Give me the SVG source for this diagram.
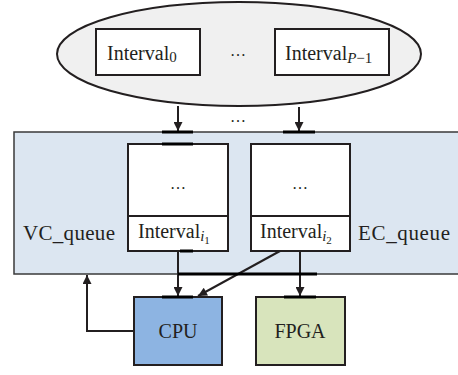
<svg xmlns="http://www.w3.org/2000/svg" width="458" height="375" viewBox="0 0 458 375">
<style>
text{font-family:"Liberation Serif","Times New Roman",serif;fill:#231f20;font-size:20px}
.q{font-size:21px}
.dots{font-size:16px}
.sub{font-size:15px}
.subi{font-size:15px;font-style:italic}
.subsub{font-size:11px}
.box{fill:#fff;stroke:#231f20;stroke-width:2}
.line{fill:none;stroke:#231f20;stroke-width:2}
.thick{stroke:#000;stroke-width:3}
</style>
<defs>
<marker id="ah" viewBox="0 0 10 10" refX="10" refY="5" markerWidth="5" markerHeight="4.5" orient="auto" markerUnits="strokeWidth">
<path d="M0,0 L10,5 L0,10 z" fill="#231f20"/>
</marker>
</defs>
<g id="partitions">
<ellipse cx="239" cy="54" rx="182" ry="52" fill="#f0f0f0" stroke="#231f20" stroke-width="2"/>
</g>
<g id="interval0">
<rect class="box" x="96" y="29" width="104" height="46"/>
<text x="107" y="60">Interval<tspan class="sub" dy="2">0</tspan></text>
</g>
<text class="dots" x="238" y="56" text-anchor="middle">…</text>
<g id="intervalP">
<rect class="box" x="275" y="29" width="114" height="46"/>
<text x="285" y="60">Interval<tspan class="subi" dy="3">P</tspan><tspan class="sub">−1</tspan></text>
</g>
<text class="dots" x="238" y="122" text-anchor="middle">…</text>
<g id="queues">
<rect x="14" y="132" width="446" height="142" fill="#dce6f1" stroke="#3a3a3a" stroke-width="1.5"/>
<text class="q" x="23" y="240" textLength="92">VC_queue</text>
<text class="q" x="358" y="240" textLength="92">EC_queue</text>
</g>
<g id="queue1">
<rect class="box" x="128" y="144" width="100" height="107"/>
<line class="line" x1="128" y1="216" x2="228" y2="216"/>
<text class="dots" x="178" y="189" text-anchor="middle">…</text>
<text x="138" y="238">Interval<tspan class="subi" dy="3">i</tspan><tspan class="subsub" dy="3">1</tspan></text>
</g>
<g id="queue2">
<rect class="box" x="251" y="144" width="99" height="107"/>
<line class="line" x1="251" y1="216" x2="350" y2="216"/>
<text class="dots" x="300" y="189" text-anchor="middle">…</text>
<text x="260" y="238">Interval<tspan class="subi" dy="3">i</tspan><tspan class="subsub" dy="3">2</tspan></text>
</g>
<g id="cpu">
<rect x="134" y="297" width="88" height="68" fill="#8db4e2" stroke="#231f20" stroke-width="2"/>
<text x="178" y="338" text-anchor="middle">CPU</text>
</g>
<g id="fpga">
<rect x="256" y="297" width="89" height="68" fill="#d8e4bc" stroke="#231f20" stroke-width="2"/>
<text x="300" y="338" text-anchor="middle">FPGA</text>
</g>
<g id="connectors">
<line class="line" x1="178" y1="106" x2="178" y2="131" marker-end="url(#ah)"/>
<line class="line" x1="299" y1="107" x2="299" y2="131" marker-end="url(#ah)"/>
<line class="line" x1="178" y1="251" x2="178" y2="296" marker-end="url(#ah)"/>
<line class="line" x1="300" y1="251" x2="300" y2="296" marker-end="url(#ah)"/>
<line class="line" x1="280" y1="251" x2="198" y2="296" marker-end="url(#ah)"/>
<polyline class="line" points="134,331 87,331 87,275" marker-end="url(#ah)"/>
<line class="thick" x1="162" y1="132" x2="193" y2="132"/>
<line class="thick" x1="283" y1="132" x2="315" y2="132"/>
<line class="thick" x1="162" y1="144" x2="193" y2="144"/>
<line class="thick" x1="180" y1="251" x2="193" y2="251"/>
<line class="thick" x1="178" y1="274" x2="317" y2="274"/>
<line class="thick" x1="162" y1="297" x2="193" y2="297"/>
<line class="thick" x1="284" y1="297" x2="316" y2="297"/>
</g>
</svg>
